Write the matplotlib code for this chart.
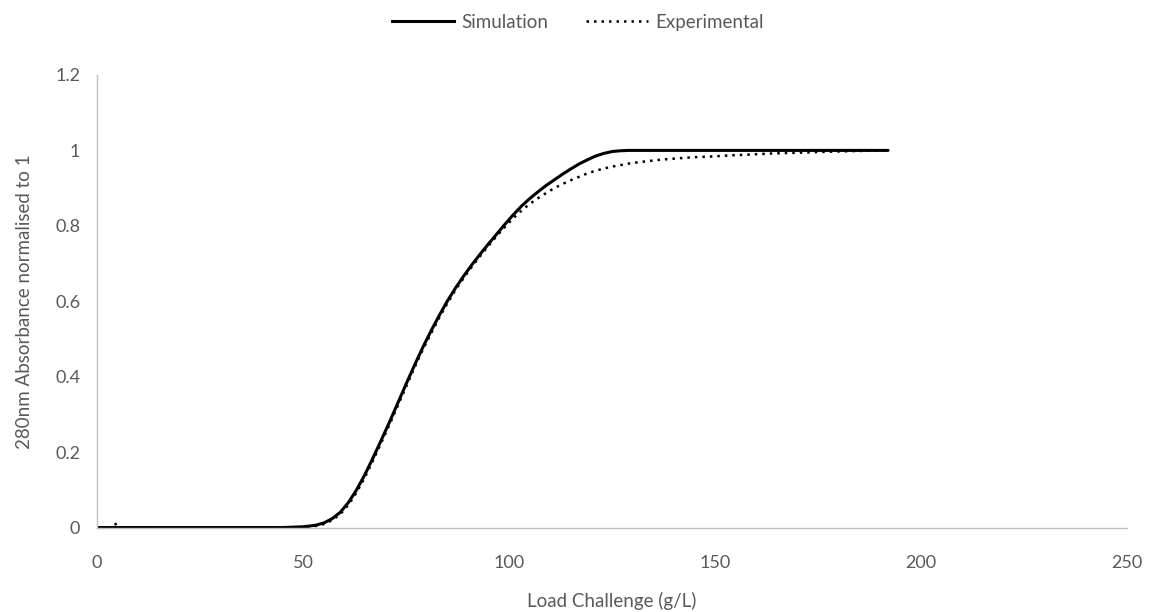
import matplotlib
matplotlib.use("Agg")
import matplotlib.pyplot as plt
from matplotlib.lines import Line2D

# Breakthrough curves: load challenge (g/L) vs normalised 280 nm absorbance
sim_x = [0, 45, 50, 53, 55, 57, 59, 61, 63, 65, 67, 69, 71, 73, 75, 77, 79,
         81, 83, 85, 87, 89, 91, 93, 95, 97, 99, 101, 103, 105, 107, 109, 111,
         113, 115, 117, 119, 121, 123, 125, 127, 129, 135, 150, 192]
sim_y = [0, 0, 0.002, 0.006, 0.012, 0.023, 0.04, 0.066, 0.1, 0.14, 0.185,
         0.232, 0.28, 0.33, 0.38, 0.429, 0.476, 0.52, 0.561, 0.6, 0.635, 0.667,
         0.697, 0.725, 0.752, 0.778, 0.804, 0.829, 0.852, 0.872, 0.89, 0.907,
         0.922, 0.937, 0.951, 0.964, 0.975, 0.985, 0.992, 0.997, 0.999, 1.0,
         1.0, 1.0, 1.0]

exp_x = [4.4, 4.9, 45, 50, 53, 55, 57, 59, 61, 63, 65, 67, 69, 71, 73, 75,
         77, 79, 81, 83, 85, 87, 89, 91, 93, 95, 97, 99, 101, 103, 105, 107,
         109, 111, 113, 115, 117, 119, 121, 123, 125, 127, 129, 131, 134,
         137.5, 141, 145, 149.6, 154, 158.5, 164, 170.6, 176, 182.8, 192]
exp_y = [0.012, 0, 0, 0.001, 0.004, 0.009, 0.019, 0.035, 0.06, 0.093, 0.133,
         0.178, 0.225, 0.273, 0.323, 0.373, 0.423, 0.47, 0.513, 0.555, 0.594,
         0.63, 0.662, 0.692, 0.72, 0.747, 0.773, 0.797, 0.82, 0.84, 0.858,
         0.873, 0.887, 0.9, 0.911, 0.921, 0.93, 0.939, 0.946, 0.952, 0.957,
         0.961, 0.965, 0.968, 0.972, 0.976, 0.979, 0.982, 0.984, 0.987, 0.989,
         0.992, 0.994, 0.996, 0.998, 1.0]

x_ticks = [0, 50, 100, 150, 200, 250]
y_ticks = [0, 0.2, 0.4, 0.6, 0.8, 1.0, 1.2]
y_tick_labels = ["0", "0.2", "0.4", "0.6", "0.8", "1", "1.2"]

text_color = "#595959"
plt.rcParams["font.family"] = ["Lato", "DejaVu Sans"]

fig = plt.figure(figsize=(11.56, 6.12), dpi=100)
ax = fig.add_axes([0.0839, 0.138, 0.8911, 0.7395])

ax.plot(sim_x, sim_y, color="black", lw=2.2, solid_capstyle="round",
        solid_joinstyle="round", label="Simulation")
ax.plot(exp_x, exp_y, color="black", lw=1.8, linestyle=(0, (1, 2)),
        label="Experimental")

ax.set_xlim(0, 250)
ax.set_ylim(0, 1.2)
ax.set_xticks(x_ticks)
ax.set_yticks(y_ticks)
ax.set_yticklabels(y_tick_labels)
ax.tick_params(length=0, labelsize=13, labelcolor=text_color)
ax.tick_params(axis="y", pad=12)
ax.tick_params(axis="x", pad=20)

for side in ("top", "right"):
    ax.spines[side].set_visible(False)
for side in ("left", "bottom"):
    ax.spines[side].set_color("#bfbfbf")
    ax.spines[side].set_linewidth(1.0)

ax.set_xlabel("Load Challenge (g/L)", fontsize=13.5, color=text_color,
              labelpad=15)
ax.set_ylabel("280nm Absorbance normalised to 1", fontsize=13.5,
              color=text_color, labelpad=16)

handles = [Line2D([], [], color="black", lw=2.2),
           Line2D([], [], color="black", lw=1.8, linestyle=(0, (1, 2)))]
fig.legend(handles, ["Simulation", "Experimental"], loc="upper center",
           bbox_to_anchor=(0.5, 1.005), ncol=2, frameon=False, fontsize=13.5,
           labelcolor=text_color, handlelength=3.3, handletextpad=0.4,
           columnspacing=2.0)

fig.savefig("out.png", dpi=100)
